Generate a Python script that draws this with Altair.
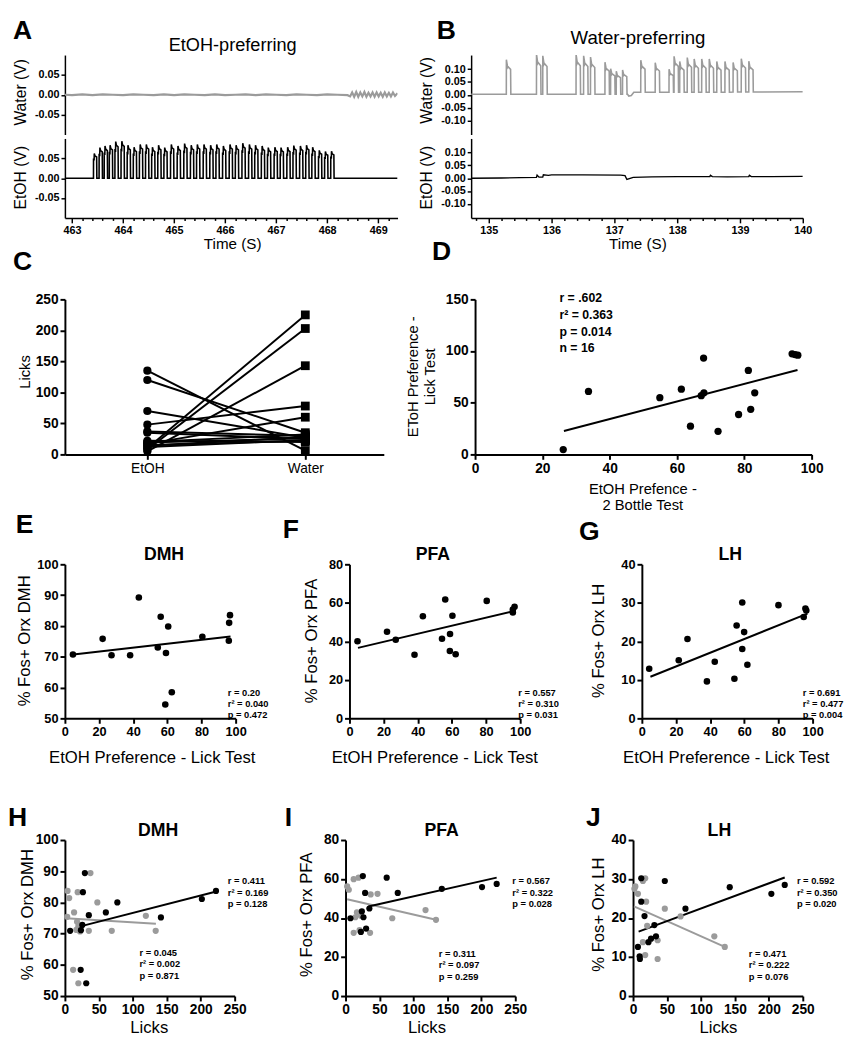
import altair as alt
import pandas as pd

FONT = "Liberation Sans"
GRAY = "#9b9b9b"

# ======================= DATA =======================
# ---- Panel A: EtOH-preferring lickometer traces ----
a_water_t = [462.86, 463.0, 463.2, 463.4, 463.6, 463.8, 464.0, 464.2, 464.4, 464.6, 464.8, 465.0,
             465.2, 465.4, 465.6, 465.8, 466.0, 466.2, 466.4, 466.6, 466.8, 467.0, 467.2, 467.4,
             467.6, 467.8, 468.0, 468.2, 468.4,
             468.45, 468.49, 468.53, 468.57, 468.61, 468.65, 468.69, 468.73, 468.77, 468.81, 468.85,
             468.89, 468.93, 468.97, 469.01, 469.05, 469.09, 469.13, 469.17, 469.21, 469.25, 469.29,
             469.33, 469.38]
a_water_v = [0.0, -0.001, 0.001, -0.001, 0.001, 0.0, -0.001, 0.001, 0.0, -0.001, 0.001, -0.001,
             0.001, 0.0, -0.001, 0.001, -0.001, 0.0, 0.001, -0.001, 0.001, 0.0, -0.001, 0.001,
             0.0, -0.001, 0.001, 0.0, -0.001,
             -0.004, 0.006, -0.005, 0.007, -0.005, 0.006, -0.004, 0.007, -0.005, 0.005, -0.004,
             0.006, -0.005, 0.006, -0.004, 0.005, -0.005, 0.006, -0.004, 0.005, -0.004, 0.006,
             -0.003, 0.004]
a_etoh_base_t = [462.86, 469.38]
a_etoh_base_v = [0.0, 0.0]
a_etoh_on = [463.42, 463.53, 463.63, 463.73, 463.84, 463.96, 464.08, 464.20, 464.32, 464.44,
             464.56, 464.68, 464.80, 464.93, 465.06, 465.19, 465.32, 465.44, 465.57, 465.70,
             465.82, 465.95, 466.08, 466.20, 466.33, 466.46, 466.58, 466.71, 466.83, 466.96,
             467.08, 467.21, 467.33, 467.46, 467.58, 467.70, 467.83, 467.95, 468.07]
a_etoh_h = [0.062, 0.077, 0.081, 0.083, 0.092, 0.093, 0.083, 0.078, 0.085, 0.085,
            0.078, 0.083, 0.077, 0.085, 0.081, 0.087, 0.083, 0.085, 0.085, 0.083,
            0.085, 0.081, 0.085, 0.083, 0.088, 0.085, 0.083, 0.081, 0.077, 0.078,
            0.077, 0.078, 0.082, 0.081, 0.083, 0.078, 0.070, 0.067, 0.068]
a_etoh_b = [0.0] * 39

# ---- Panel B: Water-preferring lickometer traces ----
b_water_base_t = [134.72, 137.21, 137.23, 137.27, 137.31, 140.0]
b_water_base_v = [0.002, 0.002, -0.005, -0.003, 0.010, 0.012]
b_water_on = [135.28, 135.76, 135.86, 136.39, 136.51, 136.62, 136.85, 136.94, 137.03, 137.13,
              137.42, 137.65, 137.87, 137.95, 138.04, 138.16, 138.27, 138.39, 138.51, 138.63,
              138.76, 138.89, 139.02, 139.14]
b_water_h = [0.135, 0.155, 0.150, 0.155, 0.150, 0.145, 0.125, 0.100, 0.090, 0.095,
             0.125, 0.115, 0.090, 0.140, 0.120, 0.135, 0.130, 0.130, 0.130, 0.120,
             0.120, 0.115, 0.130, 0.120]
b_water_b = [0.002, 0.002, 0.002, 0.002, 0.002, 0.002, 0.002, 0.002, 0.002, 0.002,
             0.010, 0.010, 0.010, 0.010, 0.010, 0.010, 0.010, 0.010, 0.010, 0.010,
             0.010, 0.011, 0.011, 0.011]
b_etoh_t = [134.72, 135.2, 135.5, 135.76, 135.77, 135.8, 135.86, 135.87, 135.95, 136.0, 136.5,
            137.1, 137.17, 137.2, 137.3, 137.6, 138.0, 138.52, 138.53, 138.56, 138.8, 139.14,
            139.15, 139.18, 139.5, 140.0]
b_etoh_v = [0.0, 0.001, 0.002, 0.003, 0.012, 0.004, 0.004, 0.013, 0.011, 0.013, 0.013,
            0.012, 0.010, -0.005, 0.003, 0.005, 0.006, 0.006, 0.011, 0.006, 0.005, 0.006,
            0.011, 0.006, 0.006, 0.007]

# ---- Panel C: licks per bottle (paired per animal) ----
c_etoh = [135, 120, 70, 48, 37, 35, 20, 19, 17, 12, 10, 8, 5, 15, 22, 14]
c_water = [6, 35, 27, 78, 30, 25, 32, 26, 60, 23, 225, 203, 143, 22, 20, 28]

# ---- Panel D ----
d_x = [26.2, 33.7, 54.9, 61.3, 64.0, 67.2, 68.0, 67.9, 72.2, 78.3, 81.2, 81.9, 83.1, 94.2, 95.1, 95.9]
d_y = [4.7, 60.9, 54.9, 63.1, 27.3, 56.8, 59.6, 93.2, 22.3, 38.6, 81.3, 43.6, 59.6, 97.3, 96.6, 96.0]
d_fit_x = [26.4, 95.8]
d_fit_y = [22.6, 81.6]
d_stats = ["r = .602", "r² = 0.363", "p = 0.014", "n = 16"]

# ---- Panels E, F, G (x = EtOH preference, lick test) ----
e_x = [4.7, 22.1, 27.3, 38.2, 43.3, 54.4, 56.1, 59.2, 60.5, 58.8, 62.6, 80.5, 96.7, 96.2, 96.0]
e_y = [70.7, 75.8, 70.5, 70.5, 89.2, 73.0, 83.0, 71.2, 79.8, 54.5, 58.5, 76.5, 83.5, 81.0, 75.2]
e_fit_x, e_fit_y = [5, 97], [70.7, 76.6]
e_stats = ["r = 0.20", "r² = 0.040", "p = 0.472"]

f_x = [4.7, 22.0, 27.1, 38.1, 43.0, 54.2, 56.1, 58.9, 60.3, 58.8, 62.2, 80.4, 96.7, 95.7, 95.7]
f_y = [40.0, 45.0, 40.8, 33.0, 53.0, 41.3, 61.7, 43.8, 53.3, 35.0, 33.3, 61.0, 58.0, 56.5, 55.0]
f_fit_x, f_fit_y = [5, 96.5], [36.6, 55.7]
f_stats = ["r = 0.557", "r² = 0.310", "p = 0.031"]

g_x = [4.3, 21.6, 26.7, 38.1, 42.7, 55.5, 58.8, 59.9, 58.8, 54.2, 61.8, 80.0, 95.8, 96.3, 94.8]
g_y = [12.9, 15.1, 20.6, 9.6, 14.7, 24.1, 30.1, 22.4, 18.0, 10.3, 13.9, 29.4, 28.5, 28.0, 26.3]
g_fit_x, g_fit_y = [5, 97], [10.8, 27.2]
g_stats = ["r = 0.691", "r² = 0.477", "p = 0.004"]

# ---- Panels H, I, J (x = licks; black = water licks, gray = EtOH licks) ----
h_bx = [29.4, 26.5, 77.2, 35.2, 60.3, 141.4, 201.7, 222.5, 7.7, 23.6, 25.6, 23.2, 31.4]
h_by = [89.4, 83.3, 80.0, 75.9, 76.8, 75.2, 81.1, 83.7, 70.9, 71.1, 72.8, 58.4, 54.1]
h_gx = [3.9, 6.3, 3.4, 13.5, 18.8, 37.6, 47.8, 17.9, 19.8, 16.9, 22.2, 35.2, 69.0, 119.2, 133.7, 12.1, 19.8]
h_gy = [83.7, 81.4, 75.4, 76.8, 83.3, 89.4, 80.0, 73.8, 72.3, 71.2, 70.7, 70.9, 70.9, 75.7, 70.9, 58.4, 54.1]
h_bfit_x, h_bfit_y = [17, 223], [72.0, 83.5]
h_gfit_x, h_gfit_y = [1.5, 134], [74.9, 73.2]
h_bstats = ["r = 0.411", "r² = 0.169", "p = 0.128"]
h_gstats = ["r = 0.045", "r² = 0.002", "p = 0.871"]

i_bx = [25.5, 60.6, 28.8, 76.9, 141.8, 201.0, 222.6, 7.2, 35.1, 24.0, 26.4, 22.6, 30.3]
i_by = [61.5, 60.7, 52.9, 52.9, 55.0, 55.9, 57.5, 39.9, 44.9, 43.4, 40.4, 32.9, 34.6]
i_gx = [2.4, 4.8, 12.0, 19.2, 37.0, 47.1, 16.8, 14.4, 12.0, 20.7, 36.1, 68.8, 117.8, 133.2, 22.6]
i_gy = [56.2, 54.5, 59.9, 60.7, 52.1, 52.4, 42.9, 40.4, 32.4, 33.8, 32.4, 39.9, 44.1, 39.1, 41.2]
i_bfit_x, i_bfit_y = [33.7, 222.6], [45.9, 60.7]
i_gfit_x, i_gfit_y = [2.4, 133.2], [49.6, 39.1]
i_bstats = ["r = 0.567", "r² = 0.322", "p = 0.028"]
i_gstats = ["r = 0.311", "r² = 0.097", "p = 0.259"]

j_bx = [12.1, 46.8, 142.4, 203.7, 223.4, 12.1, 77.2, 16.9, 31.4, 33.8, 26.5, 7.2, 9.7, 10.1, 22.7]
j_by = [30.2, 29.5, 27.9, 26.2, 28.5, 24.2, 22.4, 20.5, 18.2, 15.3, 14.7, 12.6, 10.2, 9.5, 13.8]
j_gx = [3.4, 7.2, 14.5, 17.9, 19.3, 20.8, 14.5, 17.9, 36.2, 36.2, 46.8, 70.0, 119.7, 135.1, 2.0]
j_gy = [28.1, 26.2, 29.5, 30.2, 24.2, 18.0, 13.8, 10.5, 14.3, 9.5, 22.4, 20.4, 15.3, 12.6, 27.5]
j_bfit_x, j_bfit_y = [8.2, 223.4], [16.5, 30.4]
j_gfit_x, j_gfit_y = [1.4, 135.1], [23.0, 12.6]
j_bstats = ["r = 0.592", "r² = 0.350", "p = 0.020"]
j_gstats = ["r = 0.471", "r² = 0.222", "p = 0.076"]

# ======================= HELPERS =======================
ONE = pd.DataFrame({"k": [0]})
SHAPE_A = [(0.0, 0.0), (0.001, 0.8), (0.012, 0.72), (0.016, 1.0), (0.03, 0.9), (0.062, 0.86), (0.066, 0.0)]
SHAPE_B = [(0.0, 0.0), (0.001, 1.0), (0.012, 0.88), (0.02, 0.78), (0.026, 0.8), (0.068, 0.72), (0.072, 0.0)]


def trace_df(base_t, base_v, onsets, heights, bases, shape):
    pts = list(zip(base_t, base_v))
    for on, h, b in zip(onsets, heights, bases):
        for dt, f in shape:
            pts.append((on + dt, b + f * h))
    pts.sort(key=lambda p: p[0])
    return pd.DataFrame({"t": [p[0] for p in pts], "v": [p[1] for p in pts], "i": list(range(len(pts)))})


def txt(s, x, y, size=15, bold=False, align="center", baseline="middle", angle=0, color="black"):
    kw = dict(text=s, fontSize=size, font=FONT, fontWeight="bold" if bold else "normal",
              align=align, baseline=baseline, color=color)
    if angle:
        kw["angle"] = angle
    return alt.Chart(ONE).mark_text(**kw).encode(x=alt.value(x), y=alt.value(y))


def letter(s, x, y):
    return txt(s, x, y, size=27, bold=True, align="left", baseline="alphabetic")


def stats(lines, x, y, step, size=9.5):
    return [txt(s, x, y + k * step, size=size, bold=True, align="left") for k, s in enumerate(lines)]


def box(x0, y0, x1, y1):
    # invisible cell frame that fixes the layout bounds of a panel
    return alt.Chart(ONE).mark_rect(opacity=0).encode(
        x=alt.value(x0), x2=alt.value(x1), y=alt.value(y0), y2=alt.value(y1))


def axis(vals, size=14, fmt=None, tick=5, width=2, bold=True, expr=None, tsize=None):
    kw = dict(values=vals, title=None, grid=False, labelFont=FONT, labelFontSize=size,
              labelFontWeight="bold" if bold else "normal", labelColor="black",
              domainColor="black", domainWidth=width, tickColor="black", tickWidth=width,
              tickSize=tick, labelPadding=2, labelOverlap=False, labelFlush=False)
    if fmt:
        kw["format"] = fmt
    if expr:
        kw["labelExpr"] = expr
    if tsize is not None:
        kw["tickSize"] = tsize
    return alt.Axis(**kw)


# ======================= PANEL A / B =======================
def trace_panel(df, color, xdom, ydom, yvals, xaxis, w, h, sw, extra):
    line = alt.Chart(df).mark_line(color=color, strokeWidth=sw, clip=True).encode(
        x=alt.X("t:Q", scale=alt.Scale(domain=xdom, nice=False, zero=False), axis=xaxis),
        y=alt.Y("v:Q", scale=alt.Scale(domain=ydom, nice=False, zero=False),
                axis=axis(yvals, size=11, fmt=".2f", tick=4, width=1.5,
                          expr="replace(format(datum.value, '.2f'), '\u2212', '-')")),
        order="i:Q")
    return alt.layer(line, *extra).properties(width=w, height=h)


minor_a = [round(463 + 0.2 * k, 1) for k in range(32)]
minor_b = [round(134.8 + 0.2 * k, 1) for k in range(27)]
MINOR_SIZE = {"condition": {"test": "datum.value % 1 == 0", "value": 5}, "value": 2.5}
MINOR_LBL = "datum.value % 1 == 0 ? format(datum.value, 'd') : ''"

a_w_df = pd.DataFrame({"t": a_water_t, "v": a_water_v, "i": list(range(len(a_water_t)))})
a_e_df = trace_df(a_etoh_base_t, a_etoh_base_v, a_etoh_on, a_etoh_h, a_etoh_b, SHAPE_A)
b_w_df = trace_df(b_water_base_t, b_water_base_v, b_water_on, b_water_h, b_water_b, SHAPE_B)
b_e_df = pd.DataFrame({"t": b_etoh_t, "v": b_etoh_v, "i": list(range(len(b_etoh_t)))})

A_dom = [462.86, 469.38]
B_dom = [134.72, 140.0]

A_water = trace_panel(a_w_df, GRAY, A_dom, [-0.1, 0.1], [-0.05, 0, 0.05], None, 339, 81, 2.2, [
    box(-53, -38, 354, 83),
    letter("A", -53, -16),
    txt("EtOH-preferring", 171, -10, size=18.5),
    txt("Water (V)", -45, 38, size=16, angle=270),
])
A_etoh = trace_panel(a_e_df, "black", A_dom, [-0.1, 0.1], [-0.05, 0, 0.05],
                     axis(minor_a, size=11, tick=5, width=1.5, expr=MINOR_LBL, tsize=MINOR_SIZE),
                     339, 81, 1.6, [
                         box(-53, -2, 354, 141),
                         txt("EtOH (V)", -45, 40, size=16, angle=270),
                         txt("Time (S)", 171, 108, size=15.5),
                         letter("C", -53, 134),
                     ])
B_water = trace_panel(b_w_df, GRAY, B_dom, [-0.155, 0.155], [-0.1, -0.05, 0, 0.05, 0.1], None,
                      338, 81, 1.6, [
                          box(-60, -38, 369, 83),
                          letter("B", -35, -16),
                          txt("Water-preferring", 170, -17, size=19),
                          txt("Water (V)", -45, 36, size=16, angle=270),
                      ])
B_etoh = trace_panel(b_e_df, "black", B_dom, [-0.155, 0.155], [-0.1, -0.05, 0, 0.05, 0.1],
                     axis(minor_b, size=11, tick=5, width=1.5, expr=MINOR_LBL, tsize=MINOR_SIZE),
                     338, 81, 1.4, [
                         box(-60, -2, 369, 141),
                         txt("EtOH (V)", -45, 40, size=16, angle=270),
                         txt("Time (S)", 170, 108, size=15.5),
                         letter("D", -40, 124),
                     ])

# ======================= PANEL C =======================
n = len(c_etoh)
c_df = pd.DataFrame({
    "id": list(range(n)) * 2,
    "cond": [0] * n + [1] * n,
    "licks": c_etoh + c_water,
})
c_xs = alt.Scale(domain=[-0.522, 1.497], nice=False, zero=False)
c_ys = alt.Scale(domain=[0, 250], nice=False)
c_xa = axis([0, 1], size=14, bold=False, expr="datum.value == 0 ? 'EtOH' : 'Water'")
c_ya = axis([0, 50, 100, 150, 200, 250], size=14)
c_lines = alt.Chart(c_df).mark_line(color="black", strokeWidth=2).encode(
    x=alt.X("cond:Q", scale=c_xs, axis=c_xa), y=alt.Y("licks:Q", scale=c_ys, axis=c_ya), detail="id:N")
c_circ = alt.Chart(c_df).transform_filter("datum.cond == 0").mark_point(
    shape="circle", filled=True, size=70, color="black", opacity=1).encode(
    x=alt.X("cond:Q", scale=c_xs, axis=c_xa), y=alt.Y("licks:Q", scale=c_ys, axis=c_ya))
c_sq = alt.Chart(c_df).transform_filter("datum.cond == 1").mark_point(
    shape="square", filled=True, size=80, color="black", opacity=1).encode(
    x=alt.X("cond:Q", scale=c_xs, axis=c_xa), y=alt.Y("licks:Q", scale=c_ys, axis=c_ya))
C = alt.layer(c_lines, c_circ, c_sq,
              box(-50, -23, 337, 251),
              txt("Licks", -41, 74, size=15, angle=270),
              letter("E", -50, 238),
              letter("F", 222, 243)).properties(width=325, height=158)


# ======================= GENERIC SCATTER =======================
def scatter_panel(w, h, xdom, ydom, xvals, yvals, series, fits, extra, lsize=14):
    xs = alt.Scale(domain=xdom, nice=False, zero=False)
    ys = alt.Scale(domain=ydom, nice=False, zero=False)
    xa = axis(xvals, size=lsize)
    ya = axis(yvals, size=lsize)
    layers = []
    for fx, fy, col in fits:
        layers.append(alt.Chart(pd.DataFrame({"x": fx, "y": fy})).mark_line(
            color=col, strokeWidth=2).encode(
            x=alt.X("x:Q", scale=xs, axis=xa), y=alt.Y("y:Q", scale=ys, axis=ya)))
    for px, py, col, sz in series:
        layers.append(alt.Chart(pd.DataFrame({"x": px, "y": py})).mark_circle(
            color=col, size=sz, opacity=1).encode(
            x=alt.X("x:Q", scale=xs, axis=xa), y=alt.Y("y:Q", scale=ys, axis=ya)))
    return alt.layer(*layers, *extra).properties(width=w, height=h)


# ======================= PANEL D =======================
D = scatter_panel(343, 158, [0, 100], [0, 150], [0, 20, 40, 60, 80, 100], [0, 50, 100, 150],
                  [(d_x, d_y, "black", 55)], [(d_fit_x, d_fit_y, "black")],
                  [box(-81, -23, 368, 251),
                   *stats(d_stats, 86, -1, 17, size=12.5),
                   txt("EtOH Prefence -", 171, 193, size=15),
                   txt("2 Bottle Test", 171, 210, size=15),
                   txt("EToH Preference -", -63, 79, size=15, angle=270),
                   txt("Lick Test", -46, 79, size=15, angle=270),
                   letter("G", 106, 245)])

# ======================= PANELS E F G =======================
PREF_T = "EtOH Preference - Lick Test"
E = scatter_panel(174, 157, [0, 100], [50, 100], [0, 20, 40, 60, 80, 100], [50, 60, 70, 80, 90, 100],
                  [(e_x, e_y, "black", 45)], [(e_fit_x, e_fit_y, "black")],
                  [box(-50, -19, 242, 225),
                   txt("DMH", 101, -9, size=18, bold=True),
                   txt("% Fos+ Orx DMH", -41, 78, size=17, angle=270),
                   txt(PREF_T, 89, 197, size=17),
                   *stats(e_stats, 166, 131, 11.5)], lsize=13)
F = scatter_panel(174, 157, [0, 100], [0, 80], [0, 20, 40, 60, 80, 100], [0, 20, 40, 60, 80],
                  [(f_x, f_y, "black", 45)], [(f_fit_x, f_fit_y, "black")],
                  [box(-48, -19, 242, 225),
                   txt("PFA", 85, -9, size=18, bold=True),
                   txt("% Fos+ Orx PFA", -38, 78, size=17, angle=270),
                   txt(PREF_T, 87, 197, size=17),
                   *stats(f_stats, 172, 131, 11.5)], lsize=13)
G = scatter_panel(174, 157, [0, 100], [0, 40], [0, 20, 40, 60, 80, 100], [0, 10, 20, 30, 40],
                  [(g_x, g_y, "black", 45)], [(g_fit_x, g_fit_y, "black")],
                  [box(-56, -19, 198, 225),
                   txt("LH", 90, -9, size=18, bold=True),
                   txt("% Fos+ Orx LH", -44, 78, size=17, angle=270),
                   txt(PREF_T, 86, 197, size=17),
                   *stats(g_stats, 164, 131, 11.5)], lsize=13)

# ======================= PANELS H I J =======================
LICK_X = [0, 50, 100, 150, 200, 250]
H = scatter_panel(173, 159, [0, 250], [50, 100], LICK_X, [50, 60, 70, 80, 90, 100],
                  [(h_gx, h_gy, GRAY, 40), (h_bx, h_by, "black", 40)],
                  [(h_gfit_x, h_gfit_y, GRAY), (h_bfit_x, h_bfit_y, "black")],
                  [box(-58, -56, 234, 202),
                   letter("H", -58, -14), letter("I", 224, -14),
                   txt("DMH", 95, -9, size=18, bold=True),
                   txt("% Fos+ Orx DMH", -38, 76, size=17, angle=270),
                   txt("Licks", 86, 192, size=17),
                   *stats(h_bstats, 166, 42, 11.7), *stats(h_gstats, 76, 115, 11.7)])
I = scatter_panel(173, 159, [0, 250], [0, 80], LICK_X, [0, 20, 40, 60, 80],
                  [(i_gx, i_gy, GRAY, 40), (i_bx, i_by, "black", 40)],
                  [(i_gfit_x, i_gfit_y, GRAY), (i_bfit_x, i_bfit_y, "black")],
                  [box(-52, -56, 238, 202),
                   txt("PFA", 98, -9, size=18, bold=True),
                   txt("% Fos+ Orx PFA", -39, 76, size=17, angle=270),
                   txt("Licks", 83, 192, size=17),
                   *stats(i_bstats, 170, 42, 11.7), *stats(i_gstats, 95, 116, 11.7)])
J = scatter_panel(173, 159, [0, 250], [0, 40], LICK_X, [0, 10, 20, 30, 40],
                  [(j_gx, j_gy, GRAY, 40), (j_bx, j_by, "black", 40)],
                  [(j_gfit_x, j_gfit_y, GRAY), (j_bfit_x, j_bfit_y, "black")],
                  [box(-55, -56, 199, 202),
                   letter("J", -48, -14),
                   txt("LH", 88, -9, size=18, bold=True),
                   txt("% Fos+ Orx LH", -35, 76, size=17, angle=270),
                   txt("Licks", 87, 192, size=17),
                   *stats(j_bstats, 167, 42, 11.7), *stats(j_gstats, 118, 116, 11.7)])

# ======================= LAYOUT =======================
colA = alt.vconcat(A_water, A_etoh, spacing=0)
colB = alt.vconcat(B_water, B_etoh, spacing=0)
row1 = alt.hconcat(colA, colB, spacing=0)
row2 = alt.hconcat(C, D, spacing=0)
row3 = alt.hconcat(E, F, G, spacing=0)
row4 = alt.hconcat(H, I, J, spacing=0)

chart = alt.vconcat(row1, row2, row3, row4, spacing=0).properties(
    padding=0, background="white").configure_view(stroke=None)

chart.save("out.html", embed_options={"renderer": "svg", "actions": False})
